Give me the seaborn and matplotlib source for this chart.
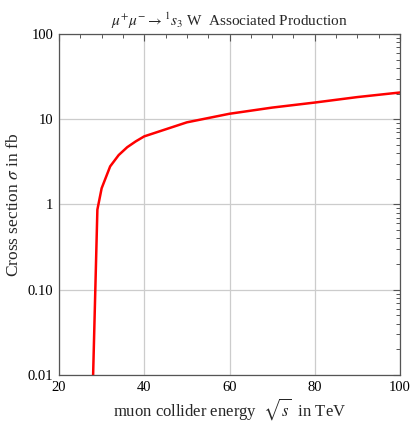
import pandas as pd
import matplotlib
matplotlib.use("Agg")
import matplotlib.pyplot as plt
import matplotlib.ticker as mticker
import seaborn as sns

# sqrt(s) in TeV vs cross section in fb
energy_tev = [28, 29, 30, 32, 34, 36, 38, 40, 50, 60, 70, 80, 90, 100]
sigma_fb = [0.01, 0.87, 1.55, 2.8, 3.8, 4.7, 5.5, 6.3, 9.2, 11.6, 13.7, 15.7, 18.2, 20.6]

x_ticks = [20, 40, 60, 80, 100]
y_ticks = [0.01, 0.1, 1, 10, 100]
y_tick_labels = ["0.01", "0.10", "1", "10", "100"]

sns.set_style("white")
plt.rcParams["font.family"] = ["Liberation Serif", "DejaVu Serif"]
plt.rcParams["mathtext.fontset"] = "stix"

df = pd.DataFrame({"energy": energy_tev, "sigma": sigma_fb})

fig = plt.figure(figsize=(4.11, 4.24), dpi=100)
ax = fig.add_axes([0.1436, 0.1156, 0.8296, 0.8042])

sns.lineplot(data=df, x="energy", y="sigma", color="red", linewidth=1.8, ax=ax)

ax.set_yscale("log")
ax.set_xlim(20, 100)
ax.set_ylim(0.01, 100)
ax.set_xticks(x_ticks)
ax.set_yticks(y_ticks)
ax.set_yticklabels(y_tick_labels)
ax.xaxis.set_minor_locator(mticker.MultipleLocator(5))
ax.yaxis.set_minor_locator(mticker.LogLocator(base=10, subs=range(2, 10)))
ax.yaxis.set_minor_formatter(mticker.NullFormatter())

ax.grid(True, which="major", color="#cccccc", linewidth=0.9)
ax.tick_params(which="both", direction="in", top=True, right=True,
               colors="#555555", labelcolor="black", labelsize=10.5)
ax.tick_params(which="major", length=5, width=0.8, pad=4)
ax.tick_params(which="minor", length=2.8, width=0.7)
for sp in ax.spines.values():
    sp.set_color("#555555")
    sp.set_linewidth(0.9)

ax.set_title(r"$\mu^{+}\mu^{-} \rightarrow {}^{1}s_{3}$ W  Associated Production",
             fontsize=11, pad=6)
ax.set_xlabel(r"muon collider energy  $\sqrt{s}$  in TeV", fontsize=12, labelpad=2)
ax.set_ylabel(r"Cross section $\sigma$ in fb", fontsize=12.5, labelpad=4)

plt.savefig("out.png", dpi=100)
